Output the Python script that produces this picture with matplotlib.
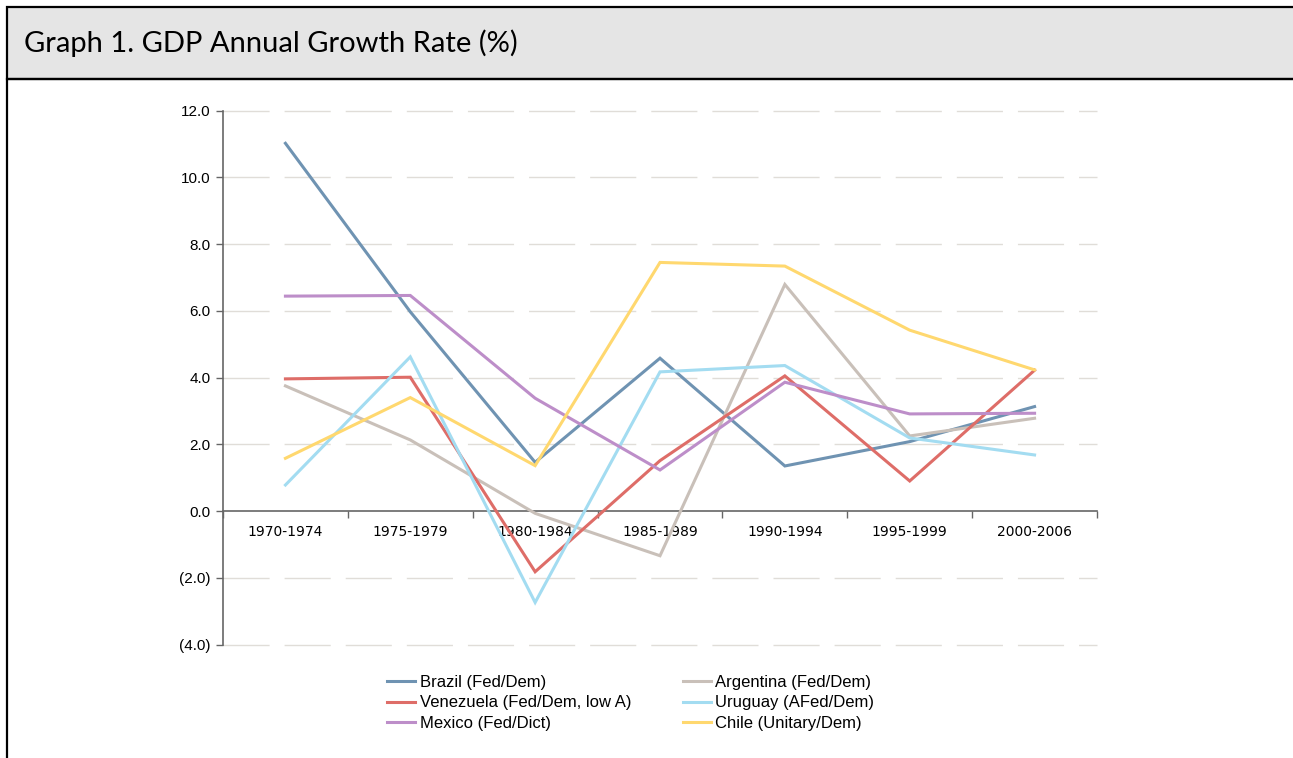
import matplotlib
matplotlib.use("Agg")
import matplotlib.pyplot as plt
from matplotlib.patches import Rectangle
from matplotlib.lines import Line2D
import numpy as np

periods = ["1970-1974", "1975-1979", "1980-1984", "1985-1989", "1990-1994", "1995-1999", "2000-2006"]
brazil = [11.02, 5.97, 1.46, 4.58, 1.35, 2.08, 3.13]
argentina = [3.75, 2.13, -0.07, -1.34, 6.79, 2.25, 2.78]
venezuela = [3.96, 4.01, -1.82, 1.51, 4.05, 0.90, 4.22]
uruguay = [0.78, 4.62, -2.74, 4.17, 4.36, 2.19, 1.68]
mexico = [6.44, 6.46, 3.38, 1.23, 3.86, 2.91, 2.93]
chile = [1.58, 3.40, 1.36, 7.45, 7.34, 5.42, 4.23]

series_names = ["Brazil (Fed/Dem)", "Argentina (Fed/Dem)", "Venezuela (Fed/Dem, low A)",
                "Uruguay (AFed/Dem)", "Mexico (Fed/Dict)", "Chile (Unitary/Dem)"]
series_values = [brazil, argentina, venezuela, uruguay, mexico, chile]
colors = ["#6f93b2", "#c9c0b9", "#de6d68", "#a3dcf1", "#bd8ec9", "#ffd86f"]

yticks = [12, 10, 8, 6, 4, 2, 0, -2, -4]
ytick_labels = ["12.0", "10.0", "8.0", "6.0", "4.0", "2.0", "0.0", "(2.0)", "(4.0)"]

W, H = 1293, 758
fig = plt.figure(figsize=(W / 100, H / 100), dpi=100)

def fx(px):
    return px / W

def fy(py):
    return 1 - py / H

band = Rectangle((fx(7), fy(79)), 1.2, fy(7) - fy(79), transform=fig.transFigure,
                 facecolor="#e5e5e5", edgecolor="black", linewidth=1.6, zorder=0)
fig.patches.append(band)
frame = Rectangle((fx(7), -0.1), 1.2, fy(79) + 0.1, transform=fig.transFigure,
                  facecolor="none", edgecolor="black", linewidth=1.6, zorder=0)
fig.patches.append(frame)
fig.text(fx(24), fy(43.5), "Graph 1. GDP Annual Growth Rate (%)", family="Lato",
         fontsize=21, va="center", ha="left")

ax = fig.add_axes([fx(223), fy(644.5), fx(1097) - fx(223), fy(110.6) - fy(644.5)])
x = np.arange(len(periods))
for name, vals, c in zip(series_names, series_values, colors):
    ax.plot(x, vals, color=c, lw=2.2, label=name, solid_joinstyle="miter", zorder=3)

ax.set_xlim(-0.5, len(periods) - 0.5)
ax.set_ylim(-4, 12)
ax.set_yticks(yticks)
ax.set_yticklabels(ytick_labels, family="Liberation Sans", fontsize=11)
ax.set_xticks(x)
ax.set_xticklabels(periods, family="Liberation Sans", fontsize=11)
ax.tick_params(axis="x", which="major", length=0, pad=10)
ax.set_xticks(np.arange(len(periods) + 1) - 0.5, minor=True)
ax.tick_params(axis="x", which="minor", length=5, width=1, color="#666666", direction="out")
ax.tick_params(axis="y", length=5, width=1, color="#666666", pad=4)

for sp in ["top", "right"]:
    ax.spines[sp].set_visible(False)
ax.spines["bottom"].set_position(("data", 0))
ax.spines["bottom"].set_color("#666666")
ax.spines["left"].set_color("#666666")
ax.spines["bottom"].set_linewidth(1.2)
ax.spines["left"].set_linewidth(1.2)

for yv in yticks:
    if yv == 0:
        continue
    ax.axhline(yv, color="#e0ddd8", lw=1.0, linestyle=(0, (33.2, 10.8)), zorder=1,
               clip_on=False)

handles = [Line2D([], [], color=c, lw=2.2) for c in colors]
order = [0, 2, 4, 1, 3, 5]
leg = fig.legend([handles[i] for i in order], [series_names[i] for i in order],
                 ncol=2, loc="upper left", bbox_to_anchor=(fx(387), fy(675)),
                 frameon=False, prop={"family": "Liberation Sans", "size": 12},
                 handlelength=1.7, handletextpad=0.25, columnspacing=3.1,
                 labelspacing=0.33, borderpad=0, borderaxespad=0)

fig.savefig("out.png", dpi=100)
